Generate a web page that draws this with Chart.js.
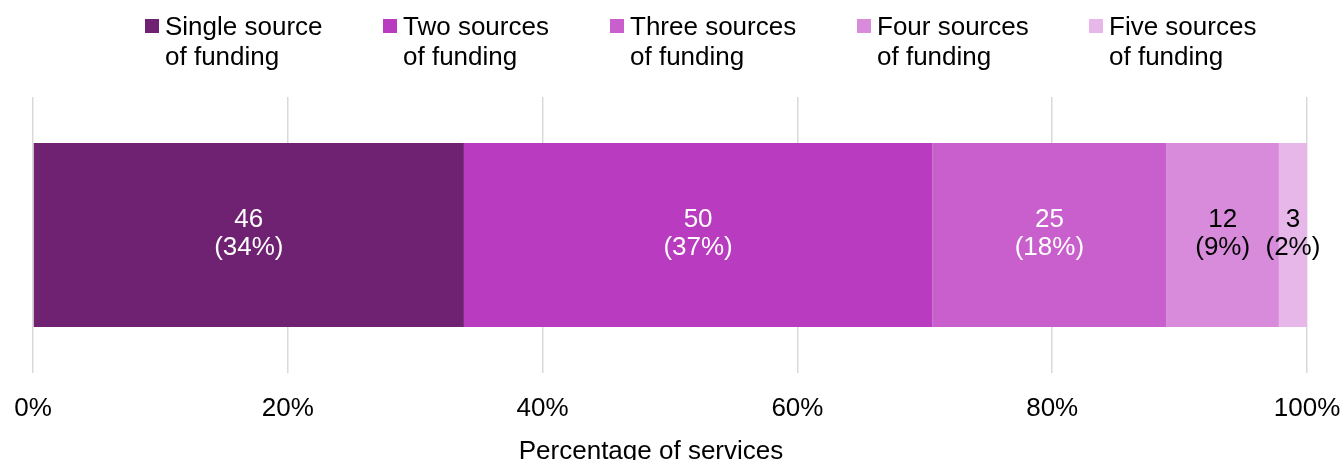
<!DOCTYPE html>
<html>
<head>
<meta charset="utf-8">
<script src="https://cdn.jsdelivr.net/npm/chart.js@4"></script>
<style>
  html, body { margin: 0; padding: 0; background: #fff; }
  #wrap { position: relative; width: 1343px; height: 460px; }
  #legend { position: absolute; top: 11px; left: 0; width: 1343px; height: 80px;
            font-family: "Liberation Sans", Arial, sans-serif; font-size: 26px; color: #000; }
  .item { position: absolute; top: 0; line-height: 30px; white-space: nowrap; }
  .box { position: absolute; left: -20px; top: 8px; width: 14px; height: 14px; }
</style>
</head>
<body>
<div id="wrap">
  <div id="legend"></div>
  <canvas id="fundingChart" width="1343" height="460"></canvas>
</div>
<script>
// Services by number of funding sources
const groups = ['Single source of funding', 'Two sources of funding', 'Three sources of funding',
                'Four sources of funding', 'Five sources of funding'];
const legendLines = [['Single source', 'of funding'], ['Two sources', 'of funding'],
                     ['Three sources', 'of funding'], ['Four sources', 'of funding'],
                     ['Five sources', 'of funding']];
const counts = [46, 50, 25, 12, 3];
const colours = ['#702272', '#b93bbf', '#c85fcd', '#d98bdb', '#e8b7e9'];
const labelColours = ['#ffffff', '#ffffff', '#ffffff', '#000000', '#000000'];
const xTicks = ['0%', '20%', '40%', '60%', '80%', '100%'];
const xTitle = 'Percentage of services';
const legendX = [165, 403, 630, 877, 1109];

const FONT = '"Liberation Sans", Arial, sans-serif';
const total = counts.reduce((a, b) => a + b, 0);
const shares = counts.map(c => c / total * 100);

// HTML legend, two lines per entry
const legendEl = document.getElementById('legend');
legendLines.forEach((lines, i) => {
    const item = document.createElement('div');
    item.className = 'item';
    item.style.left = legendX[i] + 'px';
    item.innerHTML = '<span class="box" style="background:' + colours[i] + '"></span>' + lines.join('<br>');
    legendEl.appendChild(item);
});

// Count and percentage written in the middle of each segment
const segmentLabels = {
    id: 'segmentLabels',
    afterDatasetsDraw(chart) {
        const ctx = chart.ctx;
        ctx.save();
        ctx.font = '26px ' + FONT;
        ctx.textAlign = 'center';
        ctx.textBaseline = 'middle';
        chart.data.datasets.forEach((ds, i) => {
            const bar = chart.getDatasetMeta(i).data[0];
            const cx = (bar.x + bar.base) / 2;
            ctx.fillStyle = labelColours[i];
            ctx.fillText(String(counts[i]), cx, bar.y - 15);
            ctx.fillText('(' + Math.round(shares[i]) + '%)', cx, bar.y + 13);
        });
        ctx.restore();
    }
};

// Axis title, sitting a little left of the plot centre
const axisTitle = {
    id: 'axisTitle',
    afterDraw(chart) {
        const ctx = chart.ctx;
        const area = chart.chartArea;
        ctx.save();
        ctx.font = '26px ' + FONT;
        ctx.fillStyle = '#000';
        ctx.textAlign = 'center';
        ctx.textBaseline = 'alphabetic';
        ctx.fillText(xTitle, (area.left + area.right) / 2 - 19, chart.height - 1);
        ctx.restore();
    }
};

let fundingChart;

function initializeChart() {
    const ctx = document.getElementById('fundingChart').getContext('2d');
    fundingChart = new Chart(ctx, {
        type: 'bar',
        data: {
            labels: ['Services'],
            datasets: groups.map((g, i) => ({
                label: g,
                data: [shares[i]],
                backgroundColor: colours[i],
                borderWidth: 0,
                barPercentage: 0.667,
                categoryPercentage: 1
            }))
        },
        options: {
            indexAxis: 'y',
            responsive: false,
            animation: false,
            layout: { padding: { top: 97, left: 33, right: 36, bottom: 34 } },
            plugins: {
                legend: { display: false },
                tooltip: { enabled: false }
            },
            scales: {
                x: {
                    stacked: true,
                    min: 0,
                    max: 100,
                    afterFit(scale) {
                        // plot edges come from the layout padding; drop the doubled tick padding
                        scale.paddingLeft = 0;
                        scale.paddingRight = 0;
                        scale.height -= 18;
                    },
                    ticks: {
                        stepSize: 20,
                        padding: 20,
                        color: '#000',
                        font: { family: FONT, size: 26 },
                        callback: (v, idx) => xTicks[idx]
                    },
                    grid: { color: '#d9d9d9', lineWidth: 1.5, drawTicks: false },
                    border: { display: false }
                },
                y: {
                    stacked: true,
                    display: false
                }
            }
        },
        plugins: [segmentLabels, axisTitle]
    });
}

initializeChart();
</script>
</body>
</html>
